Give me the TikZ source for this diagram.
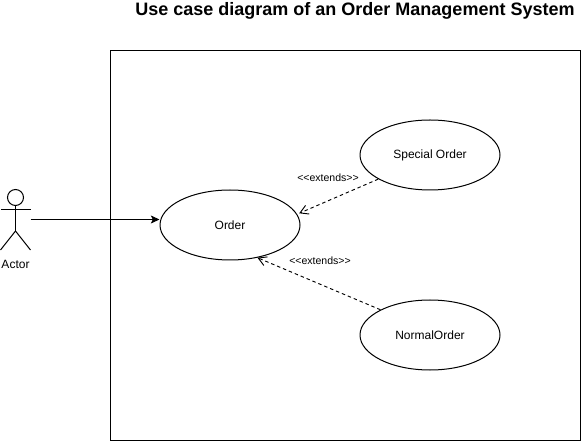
\documentclass[tikz,border=0pt]{standalone}
\usepackage{fontspec}
\setmainfont{Liberation Sans}
\usetikzlibrary{shapes.geometric,arrows.meta}
\begin{document}
\begin{tikzpicture}[x=0.75pt,y=-0.75pt,
  usecase/.style={draw,ellipse,minimum width=105pt,minimum height=52.5pt,inner sep=0pt,line width=0.75pt,font=\fontsize{9}{11}\selectfont},
  lbl/.style={inner sep=0pt,font=\fontsize{7.9}{9}\selectfont},
  ext/.style={dash pattern=on 2.6pt off 2.2pt,line width=0.7pt,-{Straight Barb[length=6pt,width=7pt]}},
  assoc/.style={line width=0.75pt,-{Stealth[length=6.5pt,width=6pt,inset=1.5pt]}},
  actorline/.style={line width=0.75pt}]
\useasboundingbox (0,0) rectangle (581,441);
\node[draw,line width=0.75pt,minimum width=352.5pt,minimum height=292.5pt,inner sep=0pt] (sys) at (345,245.5) {};
\node[inner sep=0pt,font=\bfseries\fontsize{13.5}{16}\selectfont] (title) at (355,10.5) {Use case diagram of an Order Management System};
\node[usecase] (order) at (230,225) {Order};
\node[usecase] (special) at (430,155) {Special Order};
\node[usecase] (normal) at (430,335) {NormalOrder};
\node[draw,circle,minimum size=12pt,inner sep=0pt,line width=0.75pt] (head) at (15.5,197.5) {};
\coordinate (hip) at (15.5,231);
\coordinate (armL) at (1,210);
\coordinate (armR) at (30.5,210);
\coordinate (footL) at (0.5,250);
\coordinate (footR) at (30.5,250);
\draw[actorline] (head.south) -- (hip);
\draw[actorline] (armL) -- (armR);
\draw[actorline] (footL) -- (hip) -- (footR);
\node[inner sep=0pt,font=\fontsize{9}{11}\selectfont] (actor) at (15.5,264) {Actor};
\coordinate (start) at (30.5,219.5);
\draw[assoc] (start) -- (order.west |- start);
\draw[ext] (special.205) -- ([xshift=2pt]order.10);
\draw[ext] (normal.153) -- (order.-50);
\node[lbl] (l1) at (328,177.5) {<{}<extends>{}>};
\node[lbl] (l2) at (320,260.5) {<{}<extends>{}>};
\end{tikzpicture}
\end{document}
